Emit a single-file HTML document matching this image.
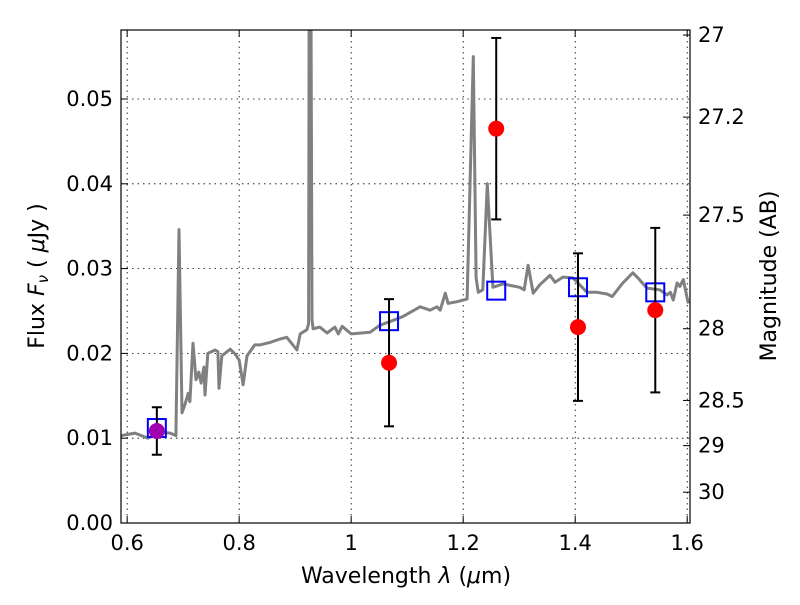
<!DOCTYPE html>
<html><head><meta charset="utf-8"><style>
body{margin:0;background:#fff}
svg{font-family:"DejaVu Sans","Liberation Sans",sans-serif}
</style></head><body>
<svg id="c" width="800" height="600"></svg>
<script>
const specWave=[0.589,0.614,0.637,0.659,0.677,0.687,0.6926,0.698,0.703,0.709,0.712,0.7176,0.723,0.728,0.732,0.737,0.739,0.744,0.757,0.762,0.764,0.769,0.784,0.793,0.8,0.807,0.814,0.828,0.837,0.855,0.873,0.885,0.903,0.909,0.921,0.924,0.925,0.928,0.93,0.932,0.944,0.957,0.971,0.977,0.984,1.0,1.034,1.051,1.075,1.091,1.123,1.141,1.153,1.159,1.168,1.173,1.189,1.207,1.218,1.223,1.227,1.235,1.243,1.253,1.271,1.301,1.309,1.316,1.325,1.337,1.355,1.364,1.378,1.396,1.421,1.439,1.457,1.466,1.485,1.503,1.512,1.528,1.551,1.564,1.57,1.575,1.582,1.587,1.593,1.602];
const specFlux=[0.0103,0.0106,0.0100,0.0107,0.0106,0.0103,0.0346,0.0130,0.0139,0.0153,0.0143,0.0212,0.0169,0.0178,0.0165,0.0184,0.0151,0.0200,0.0204,0.0202,0.0159,0.0197,0.0205,0.0199,0.0192,0.0163,0.0197,0.0210,0.0210,0.0213,0.0217,0.0219,0.0204,0.0223,0.0228,0.0235,0.065,0.065,0.024,0.0229,0.0231,0.0224,0.0231,0.0223,0.0232,0.0223,0.0225,0.0233,0.0239,0.0243,0.0255,0.0251,0.0255,0.0251,0.0271,0.0259,0.0261,0.0264,0.0550,0.0289,0.0272,0.0275,0.0400,0.0278,0.0282,0.0278,0.0275,0.0304,0.0271,0.0281,0.0292,0.0284,0.0290,0.0289,0.0272,0.0272,0.0270,0.0267,0.0283,0.0295,0.0289,0.0277,0.0275,0.0269,0.0272,0.0263,0.0283,0.0279,0.0287,0.0259];
const photWave=[0.653,1.0676,1.259,1.405,1.543];
const photFlux=[0.01085,0.0189,0.0465,0.0231,0.0251];
const photErr=[0.0028,0.0075,0.0107,0.0087,0.0097];
const modelFlux=[0.0112,0.0238,0.0274,0.0278,0.0272];
const xTicks=[0.6,0.8,1,1.2,1.4,1.6];
const yTicks=[0,0.01,0.02,0.03,0.04,0.05];
const magTicks=[27,27.2,27.5,28,28.5,29,30];

const L=121,R=690,T=30,B=523;
const X0=0.589,X1=1.605;
const x=v=>L+(v-X0)/(X1-X0)*(R-L);
const y=v=>B-v*8480;
const ym=m=>y(Math.pow(10,(23.9-m)/2.5));
const svg=document.getElementById('c');
const NS='http://www.w3.org/2000/svg';
function mk(t,a,p){const e=document.createElementNS(NS,t);for(const k in a)e.setAttribute(k,a[k]);(p||svg).appendChild(e);return e;}
const fmt=v=>{if(v===1)return '1';return String(v);};

const defs=mk('defs',{});const cp=mk('clipPath',{id:'pc'},defs);mk('rect',{x:L,y:T,width:R-L,height:B-T},cp);

xTicks.forEach(v=>{const g=mk('line',{x1:x(v),x2:x(v),y1:T,y2:B,stroke:'#000','stroke-width':0.8,'stroke-dasharray':'1.5,4'});
});
yTicks.slice(1).forEach(v=>{const g=mk('line',{x1:L,x2:R,y1:y(v),y2:y(v),stroke:'#000','stroke-width':0.8,'stroke-dasharray':'1.5,4'});
});

const pts=specWave.map((w,i)=>x(w).toFixed(1)+','+y(specFlux[i]).toFixed(1)).join(' ');
const sp=mk('polyline',{points:pts,fill:'none',stroke:'#808080','stroke-width':3,'clip-path':'url(#pc)','stroke-linejoin':'round'});


photWave.forEach((w,i)=>{const r=mk('rect',{x:x(w)-9,y:y(modelFlux[i])-9,width:18,height:18,fill:'none',stroke:'#0000ff','stroke-width':2});
});
photWave.forEach((w,i)=>{const cx=x(w),t=y(photFlux[i]+photErr[i]),b=y(photFlux[i]-photErr[i]);
const g=mk('g',{stroke:'#000','stroke-width':2});

mk('line',{x1:cx,x2:cx,y1:t,y2:b},g);mk('line',{x1:cx-5,x2:cx+5,y1:t,y2:t},g);mk('line',{x1:cx-5,x2:cx+5,y1:b,y2:b},g);
const c=mk('circle',{cx:cx,cy:y(photFlux[i]),r:8,fill:i===0?'#a000b0':'#ff0000'});
});

const fr=mk('rect',{x:L,y:T,width:R-L,height:B-T,fill:'none',stroke:'#000','stroke-width':1.2});


xTicks.forEach(v=>{mk('line',{x1:x(v),x2:x(v),y1:B,y2:B-7,stroke:'#000'});mk('line',{x1:x(v),x2:x(v),y1:T,y2:T+7,stroke:'#000'});
const t=mk('text',{x:x(v),y:B+27,'text-anchor':'middle','font-size':21});t.textContent=fmt(v);
});
yTicks.forEach(v=>{mk('line',{x1:L,x2:L+7,y1:y(v),y2:y(v),stroke:'#000'});
const t=mk('text',{x:L-8,y:y(v)+7,'text-anchor':'end','font-size':21});t.textContent=v.toFixed(2);
});
magTicks.forEach(m=>{const yy=ym(m);mk('line',{x1:R,x2:R-7,y1:yy,y2:yy,stroke:'#000'});
const t=mk('text',{x:R+8,y:yy+7,'font-size':21});t.textContent=String(m);
});
</script>
<svg width="800" height="600" style="position:absolute;left:0;top:0">
<text x="406" y="583" text-anchor="middle" font-size="22" font-family="DejaVu Sans,sans-serif">Wavelength  <tspan font-style="italic">λ</tspan> (<tspan font-style="italic">μ</tspan>m)</text>
<text transform="translate(44,276) rotate(-90)" text-anchor="middle" font-size="22" font-family="DejaVu Sans,sans-serif">Flux  <tspan font-style="italic">F<tspan font-size="15" dy="4">ν</tspan></tspan><tspan dy="-4">  ( </tspan><tspan font-style="italic">μ</tspan>Jy )</text>
<text transform="translate(776,276) rotate(-90)" text-anchor="middle" font-size="22" font-family="DejaVu Sans,sans-serif">Magnitude (AB)</text>
</svg>
</body></html>
